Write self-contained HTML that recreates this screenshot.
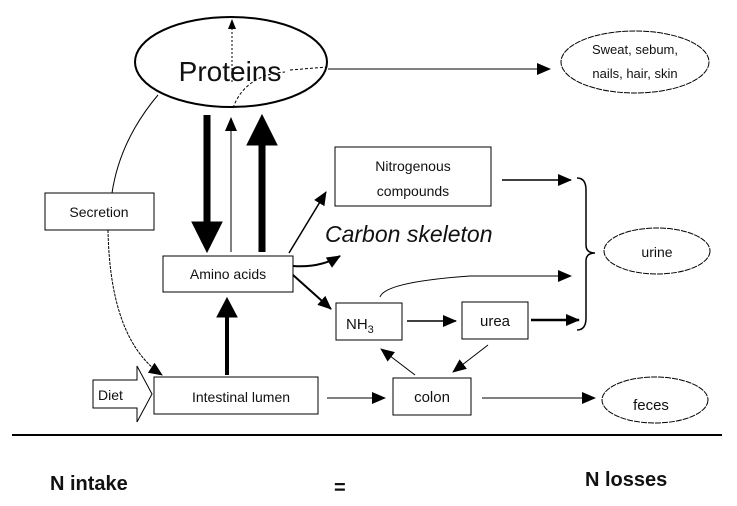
<!DOCTYPE html>
<html><head><meta charset="utf-8"><style>
body{margin:0;background:#fff;width:737px;height:506px;overflow:hidden}
svg{display:block}
text{font-family:"Liberation Sans",Arial,sans-serif;fill:#111}
</style></head><body>
<svg width="737" height="506" viewBox="0 0 737 506" xmlns="http://www.w3.org/2000/svg">
<defs>
<marker id="a" markerWidth="10" markerHeight="8" refX="9" refY="4" orient="auto" markerUnits="userSpaceOnUse"><path d="M0,0 L10,4 L0,8 Z" fill="#000"/></marker>
<marker id="b" markerWidth="14" markerHeight="12" refX="13" refY="6" orient="auto" markerUnits="userSpaceOnUse"><path d="M0,0 L14,6 L0,12 Z" fill="#000"/></marker>
</defs>
<g fill="none" stroke="#000">
<ellipse cx="231" cy="62" rx="96" ry="45" stroke-width="2"/>
<ellipse cx="635" cy="62" rx="74" ry="31" stroke-dasharray="6,1"/>
<ellipse cx="657" cy="251" rx="53" ry="23" stroke-dasharray="6,1"/>
<ellipse cx="655" cy="400" rx="53" ry="23" stroke-dasharray="6,1"/>
<rect x="45" y="193" width="109" height="37"/>
<rect x="163" y="256" width="130" height="36"/>
<rect x="335" y="147" width="156" height="59"/>
<rect x="336" y="303" width="66" height="37"/>
<rect x="462" y="302" width="66" height="37"/>
<rect x="393" y="378" width="78" height="37"/>
<rect x="154" y="377" width="164" height="37"/>
<path d="M93,380 H137 V366 L152,394 L137,422 V408 H93 Z"/>
<line x1="12" y1="435" x2="722" y2="435" stroke-width="2"/>
<line x1="328" y1="69" x2="550" y2="69" marker-end="url(#b)"/>
<line x1="232" y1="82" x2="232" y2="20" stroke-dasharray="2,2" marker-end="url(#a)"/>
<line x1="290" y1="70" x2="327" y2="67" stroke-dasharray="3,2"/>
<path d="M233,108 Q245,75 285,72" stroke-dasharray="3,2"/>
<line x1="207" y1="115" x2="207" y2="222" stroke-width="7"/>
<path d="M192,222 L222,222 L207,252 Z" fill="#000"/>
<line x1="231" y1="252" x2="231" y2="118" marker-end="url(#b)"/>
<line x1="262" y1="252" x2="262" y2="145" stroke-width="7"/>
<path d="M247,145 L277,145 L262,115 Z" fill="#000"/>
<line x1="227" y1="375" x2="227" y2="315" stroke-width="4"/>
<path d="M217,317 L237,317 L227,298 Z" fill="#000"/>
<path d="M158,95 Q120,140 112,193"/>
<path d="M108,230 Q110,340 162,375" stroke-dasharray="3,1" marker-end="url(#b)"/>
<line x1="289" y1="253" x2="326" y2="192" stroke-width="1.5" marker-end="url(#b)"/>
<path d="M293,266 Q320,268 340,256" stroke-width="2" marker-end="url(#b)"/>
<line x1="293" y1="275" x2="331" y2="309" stroke-width="2" marker-end="url(#b)"/>
<line x1="407" y1="321" x2="456" y2="321" stroke-width="1.5" marker-end="url(#b)"/>
<line x1="531" y1="320" x2="579" y2="320" stroke-width="2.5" marker-end="url(#b)"/>
<line x1="502" y1="180" x2="571" y2="180" stroke-width="1.5" marker-end="url(#b)"/>
<path d="M380,297 Q385,282 470,276 L571,276" marker-end="url(#b)"/>
<line x1="488" y1="345" x2="453" y2="372" marker-end="url(#b)"/>
<line x1="415" y1="375" x2="381" y2="349" marker-end="url(#b)"/>
<line x1="327" y1="398" x2="385" y2="398" marker-end="url(#b)"/>
<line x1="482" y1="398" x2="595" y2="398" marker-end="url(#b)"/>
<path d="M577,178 Q586,178 586,190 L586,245 Q586,253 595,253 Q586,253 586,261 L586,318 Q586,330 577,330" stroke-width="1.5"/>
</g>
<text x="230" y="81" font-size="28" text-anchor="middle">Proteins</text>
<text x="635" y="54" font-size="13" text-anchor="middle">Sweat, sebum,</text>
<text x="635" y="78" font-size="13" text-anchor="middle">nails, hair, skin</text>
<text x="99" y="217" font-size="14" text-anchor="middle">Secretion</text>
<text x="228" y="279" font-size="14" text-anchor="middle">Amino acids</text>
<text x="413" y="171" font-size="14" text-anchor="middle">Nitrogenous</text>
<text x="413" y="196" font-size="14" text-anchor="middle">compounds</text>
<text x="325" y="242" font-size="23" font-style="italic">Carbon skeleton</text>
<text x="657" y="257" font-size="14" text-anchor="middle">urine</text>
<text x="346" y="329" font-size="15">NH<tspan font-size="11" dy="4">3</tspan></text>
<text x="495" y="326" font-size="15" text-anchor="middle">urea</text>
<text x="432" y="402" font-size="15" text-anchor="middle">colon</text>
<text x="651" y="410" font-size="15" text-anchor="middle">feces</text>
<text x="241" y="402" font-size="14" text-anchor="middle">Intestinal lumen</text>
<text x="98" y="400" font-size="14">Diet</text>
<text x="50" y="490" font-size="20" font-weight="bold">N intake</text>
<text x="334" y="494" font-size="20" font-weight="bold">=</text>
<text x="585" y="486" font-size="20" font-weight="bold">N losses</text>
</svg>
</body></html>
